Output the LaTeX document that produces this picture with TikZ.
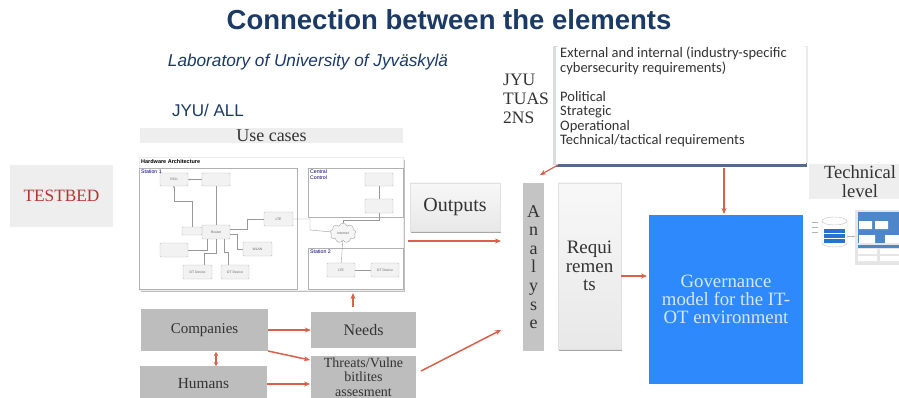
\documentclass[tikz,border=0pt]{standalone}
\usepackage{fontspec}
\setmainfont{Liberation Serif}
\setsansfont{Liberation Sans}
\newfontfamily\bodyfont{Carlito}
\usetikzlibrary{arrows.meta,shapes.symbols}
\definecolor{arrowred}{HTML}{D9604A}
\definecolor{greybox}{HTML}{BDBDBD}
\definecolor{paleBox}{HTML}{EEEEEE}
\definecolor{navy}{HTML}{1B3A66}
\definecolor{blueBox}{HTML}{2E8AFC}
\definecolor{govtext}{HTML}{D5E6FA}
\definecolor{testbedred}{HTML}{B8322E}
\definecolor{tinyline}{HTML}{999999}
\definecolor{inktext}{HTML}{333333}
\tikzset{
 x=1pt,y=-1pt,
 flowarrow/.style={draw=arrowred,line width=1.5pt,-{Stealth[length=6pt,width=5pt]}},
 thinarrow/.style={flowarrow,line width=1.2pt},
 greyrect/.style={fill=greybox,draw=none,text=inktext,align=center,inner sep=0pt},
 palerect/.style={top color=white!97!black,bottom color=black!9,draw=black!12,text=inktext,align=center,inner sep=0pt},
 softshadow/.style={fill=black!35},
 station/.style={draw=black!30,line width=.6pt,fill=white},
 hw/.style={draw=black!25,fill=black!5,rounded corners=1pt,line width=.4pt,text=black!60,inner sep=0pt,font=\sffamily\fontsize{3.4}{4}\selectfont,align=center},
 hwlink/.style={draw=tinyline,line width=.9pt},
 hwthin/.style={draw=tinyline,line width=.4pt},
 sttitle/.style={font=\sffamily\fontsize{5.2}{6}\selectfont,text=blue!45!black,anchor=north west,inner sep=0pt,align=left},
 lbl/.style={text=inktext,inner sep=0pt,align=left},
}
\newcommand{\boxat}[6]{\node[#1,minimum width=#4-#2,minimum height=#5-#3] (#6) at ({(#2+#4)/2},{(#3+#5)/2})}
\begin{document}
\begin{tikzpicture}
\useasboundingbox (0,0) rectangle (899,398);
\fill[white] (0,0) rectangle (899,398);
% headings
\node[font=\sffamily\bfseries\fontsize{27.5}{30}\selectfont,text=navy,inner sep=0pt] (title) at (449,20) {Connection between the elements};
\node[font=\sffamily\itshape\fontsize{17.2}{20}\selectfont,text=navy,inner sep=0pt] (lab) at (308,62) {Laboratory of University of Jyväskylä};
\node[font=\sffamily\fontsize{17}{20}\selectfont,text=navy,inner sep=0pt] (all) at (208,110) {JYU/ ALL};
\node[lbl,font=\fontsize{17.5}{18.8}\selectfont,anchor=north west] (org) at (503,74) {JYU\\TUAS\\2NS};
% testbed
\boxat{fill=paleBox,text=testbedred,font=\fontsize{17.3}{19}\selectfont,inner sep=0pt}{10}{165}{113}{227}{testbed} {TESTBED};
% use cases
\boxat{fill=paleBox,text=inktext,font=\fontsize{18}{20}\selectfont,inner sep=0pt}{140}{128}{403}{143}{usecases} {Use cases};
% hardware architecture panel
\fill[black!25] (141,160) rectangle (405,292);
\boxat{fill=white,draw=black!8,inner sep=0pt}{139}{157}{403}{290}{panel} {};
\node[font=\sffamily\bfseries\fontsize{5.5}{6}\selectfont,anchor=west,inner sep=0pt] (hwt) at (141,161.5) {Hardware Architecture};
\boxat{station}{139}{168}{297}{289}{st1} {};
\boxat{station}{308}{168}{403}{217}{cc} {};
\boxat{station}{308}{248}{403}{289}{st2} {};
\node[sttitle] (st1t) at (141,170) {Station 1};
\node[sttitle] (cct) at (310,170) {Central\\Control};
\node[sttitle] (st2t) at (310,250) {Station 2};
\boxat{hw}{160}{173}{188}{186}{rcu} {RCU};
\boxat{hw}{202}{173}{230}{186}{sensor} {};
\boxat{hw}{202}{225}{230}{239}{router} {Router};
\boxat{hw}{182}{227}{202}{235}{mirror} {};
\boxat{hw}{264}{212}{293}{226}{lte} {LTE};
\boxat{hw}{160}{243}{188}{257}{gps} {};
\boxat{hw}{243}{242}{272}{256}{wlan} {WLAN};
\boxat{hw}{183}{265}{212}{279}{ota} {OT Device};
\boxat{hw}{221}{265}{249}{279}{otb} {OT Device};
\boxat{hw}{365}{173}{393}{186}{ccs} {};
\boxat{hw}{365}{199}{393}{213}{ccf} {};
\boxat{hw}{327}{263}{355}{277}{ltb} {LTE};
\boxat{hw}{371}{263}{399}{277}{otc} {OT Device};
\node[cloud,draw=black!35,fill=black!4,line width=.4pt,cloud puffs=9,minimum width=26pt,minimum height=15pt,inner sep=0pt,font=\sffamily\fontsize{3.4}{4}\selectfont,text=black!60] (net) at (343,233) {Internet};
\draw[hwlink] (sensor) -- (router);
\draw[hwlink,-{Stealth[length=2pt,width=2pt]}] (192,227) |- (174,201) -- (174,186);
\draw[hwlink,line width=.4pt,-{Stealth[length=2pt,width=2pt]}] (sensor.west) -- (rcu.east |- sensor.west);
\draw[hwlink] (230,229) -- (247,229) -- (247,219) -- (lte.west);
\draw[hwlink] (207,239) |- (gps.east);
\draw[hwlink] (216,239) |- (204,253) -- (204,265);
\draw[hwlink] (224,239) |- (228,252) -- (228,265);
\draw[hwlink] (230,234) -| (237,249) -- (wlan.west |- 0,249);
\draw[hwlink] (ltb) -- (otc);
\draw[hwlink] (ccs) -- (ccf);
\draw[hwthin] (lte.east) -| (310,230) -- (net);
\draw[hwthin] (ccf.south) |- (343,220) -- (net);
\draw[hwthin] (net) -- (ltb);
% outputs, analyse, requirements, governance
\fill[softshadow] (411,184) rectangle (501,233);
\boxat{palerect,font=\fontsize{20}{24}\selectfont}{410}{183}{500}{231}{outputs} {Outputs};
\boxat{greyrect,fill=black!23,font=\fontsize{18}{18.6}\selectfont}{523}{183}{544}{351}{analyse} {A\\n\\a\\l\\y\\s\\e};
\fill[softshadow] (559,184) rectangle (622,351);
\boxat{palerect,font=\fontsize{19}{18.6}\selectfont}{558}{183}{621}{349}{req} {Requi\\remen\\ts};
\boxat{fill=blueBox,text=govtext,align=center,inner sep=0pt,font=\fontsize{18.8}{18}\selectfont}{649}{215}{803}{384}{gov} {Governance\\model for the IT-\\OT environment};
% external box
\fill[navy!75] (556,161) rectangle (807,167);
\fill[blue!20!black!14] (553,46) rectangle (558,165);
\fill[black!8] (804,46) rectangle (808,163);
\boxat{fill=white,draw=none,inner sep=0pt}{556}{47}{806}{164}{ext} {};
\node[font=\bodyfont\fontsize{14.5}{14.5}\selectfont,text=inktext,anchor=north west,inner sep=0pt,align=left] (exttext) at (560,47) {External and internal (industry-specific\\cybersecurity requirements)\\[14.5pt]Political\\Strategic\\Operational\\Technical/tactical requirements};
% technical level
\boxat{fill=paleBox,text=inktext,font=\fontsize{18.6}{18.6}\selectfont,align=center,inner sep=0pt}{809}{164}{911}{199}{tech} {Technical\\level};
% small picture
\draw[black!25,fill=white,line width=.4pt] (822,221) -- (822,243) arc[start angle=180,end angle=360,x radius=12.5,y radius=-4] -- (847,221);
\draw[black!25,fill=white,line width=.4pt] (834.5,221) ellipse[x radius=12.5,y radius=4];
\fill[blueBox!70!navy] (824,229) rectangle (845,243);
\draw[white,line width=.4pt] (824,233.5) -- (845,233.5) (824,238) -- (845,238);
\draw[black!30,line width=.3pt] (847,236) -- (855,236);
\draw[black!30,line width=.3pt] (812,222) -- (818,222) (812,227) -- (818,227) (812,232) -- (818,232);
\fill[black!10] (855,210) rectangle (899,265);
\fill[blueBox!60!gray] (858,212) rectangle (899,243);
\fill[white] (859,221) rectangle (872,229) (875,221) rectangle (888,229) (859,235) rectangle (875,243) (885,235) rectangle (899,243);
\fill[blueBox!60!gray] (858,245) rectangle (899,248);
\fill[white] (858,249) rectangle (877,254) (880,249) rectangle (899,254) (858,256) rectangle (877,261) (880,256) rectangle (899,261);
% lower boxes
\boxat{greyrect,font=\fontsize{15}{18}\selectfont}{141}{309}{268}{351}{companies} {Companies};
\boxat{greyrect,font=\fontsize{15.4}{18}\selectfont}{140}{366}{267}{402}{humans} {Humans};
\boxat{greyrect,font=\fontsize{16}{18}\selectfont}{311}{312}{416}{348}{needs} {Needs};
\boxat{greyrect,font=\fontsize{14}{14.5}\selectfont}{311}{356}{416}{398}{threats} {Threats/Vulne\\bitlites\\assesment};
% connectors
\coordinate (needsTop) at (353,307);
\coordinate (panelBottom) at (353,293);
\draw[flowarrow] (companies.east |- needs.west) -- (needs.west);
\draw[flowarrow] (268,351) -- (310,360);
\draw[flowarrow] (267,384) -- (310,384);
\draw[draw=arrowred,line width=1.5pt,{Stealth[length=4pt,width=4.5pt]}-{Stealth[length=4pt,width=4.5pt]}] (216,352) -- (216,366);
\draw[flowarrow] (needsTop) -- (panelBottom);
\coordinate (threatOut) at (421,371);
\coordinate (anaIn) at (501,330);
\draw[flowarrow] (threatOut) -- (anaIn);
\coordinate (panelOut) at (408,241);
\coordinate (anaIn2) at (501,241);
\draw[flowarrow] (panelOut) -- (anaIn2);
\draw[flowarrow] (req.east |- 0,276) -- (647,276);
\draw[thinarrow] (724,168) -- (724,214);
\coordinate (extOut) at (558,165);
\coordinate (anaTop) at (540,175);
\draw[thinarrow] (extOut) -- (anaTop);
\end{tikzpicture}
\end{document}
